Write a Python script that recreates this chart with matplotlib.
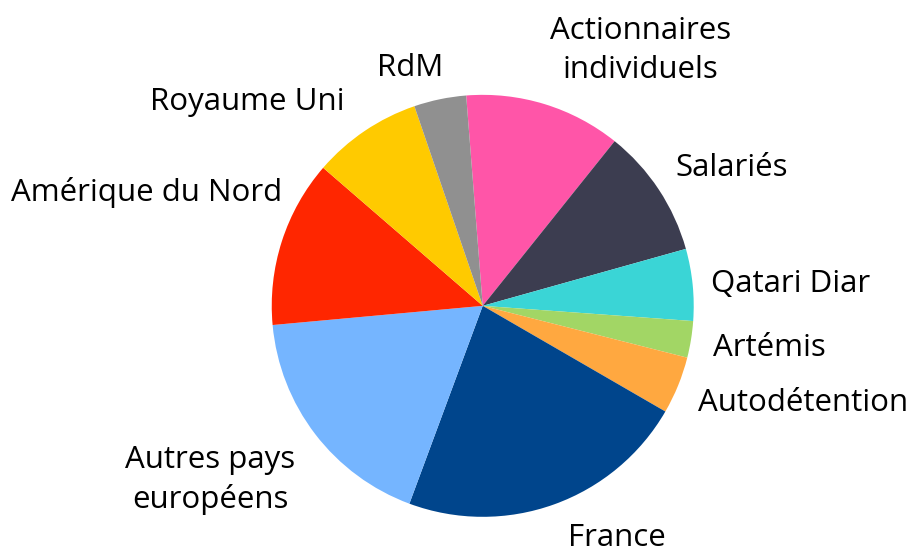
import matplotlib.pyplot as plt

# Shareholder breakdown (%), clockwise from top
labels = ['Actionnaires\nindividuels', 'Salariés', 'Qatari Diar', 'Artémis',
          'Autodétention', 'France', 'Autres pays\neuropéens',
          'Amérique du Nord', 'Royaume Uni', 'RdM']
values = [12.0, 9.9, 5.5, 2.8, 4.4, 22.3, 17.9, 12.8, 8.4, 4.0]
colors = ['#FF55A8', '#3C3D50', '#3AD5D6', '#A2D665', '#FFA840',
          '#00458C', '#75B5FF', '#FF2600', '#FFCA00', '#909090']

# label anchor positions in pie units (radius = 1)
label_pos = [(0.746, 1.212), (1.181, 0.653), (1.461, 0.103), (1.357, -0.200),
             (1.518, -0.461), (0.636, -1.100), (-1.292, -0.826),
             (-1.591, 0.539), (-1.117, 0.966), (-0.344, 1.127)]

plt.rcParams['font.family'] = ['Open Sans', 'DejaVu Sans']

fig = plt.figure(figsize=(9.14, 5.54), dpi=100)
ax = fig.add_axes([0.2973, 0.0671, 0.4617, 0.7617])

ax.pie(values, colors=colors, startangle=94.5, counterclock=False,
       radius=1, wedgeprops=dict(linewidth=0))

for lab, (x, y) in zip(labels, label_pos):
    ax.text(x, y, lab, ha='center', va='center', fontsize=22.5,
            linespacing=1.4, color='black')

ax.set_xlim(-1, 1)
ax.set_ylim(-1, 1)
ax.set_aspect('equal')
ax.axis('off')

fig.savefig('out.png', dpi=100)
